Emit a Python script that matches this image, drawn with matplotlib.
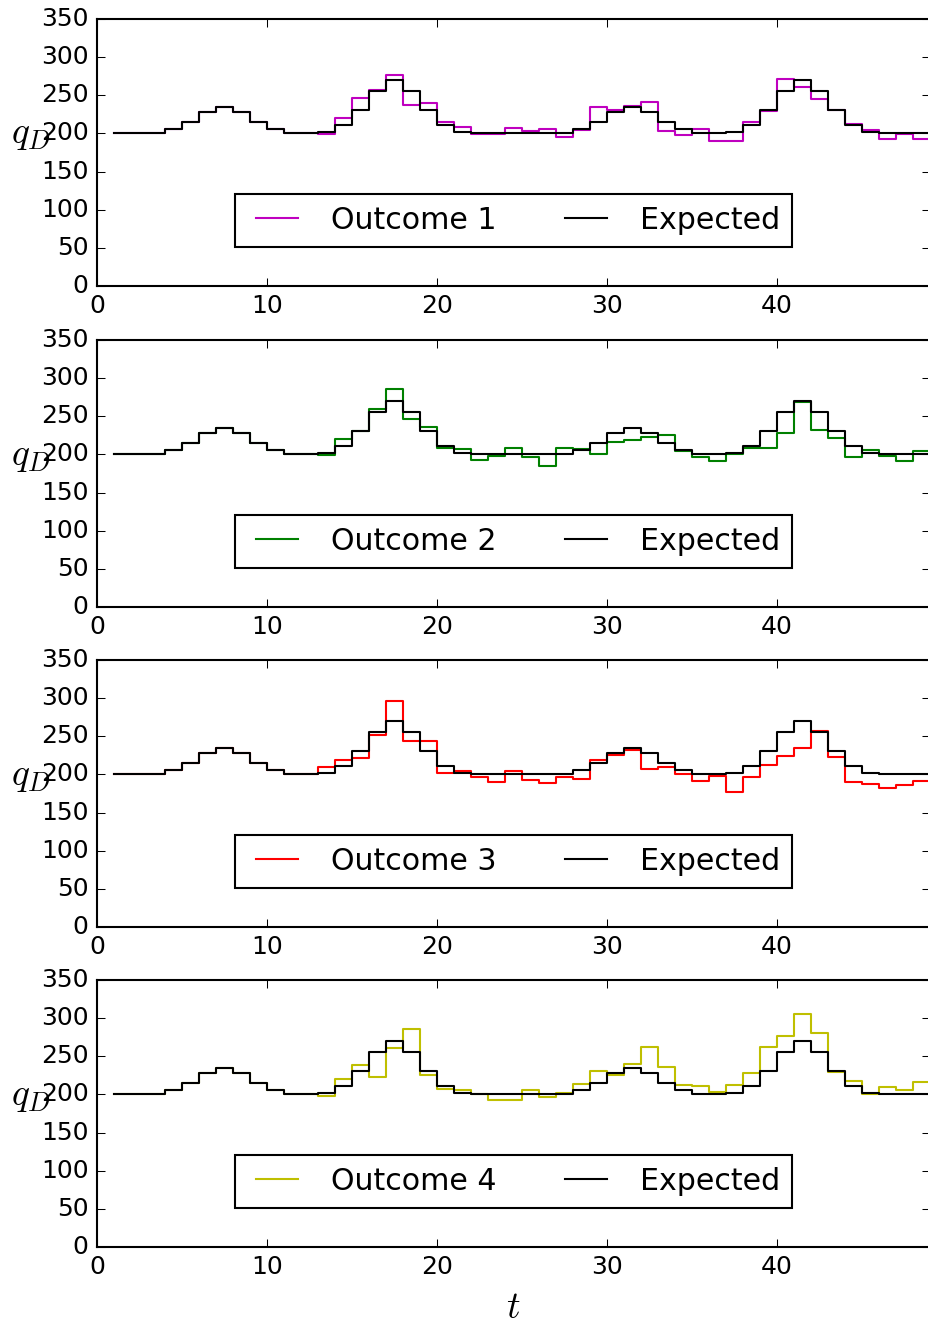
import numpy as np
import matplotlib
matplotlib.use('Agg')
import matplotlib.pyplot as plt

plt.style.use('classic')

# time steps (each value holds from t to t+1)
t = np.arange(1, 49)

expected = [200, 200, 201, 206, 215, 228, 235, 228, 215, 206, 201, 200,
            202, 211, 231, 256, 270, 256, 231, 211, 202, 200, 200, 200,
            200, 200, 201, 206, 215, 228, 235, 228, 215, 206, 201, 200,
            202, 211, 231, 256, 270, 256, 231, 211, 202, 200, 200, 200]

outcome1 = [200, 200, 201, 206, 215, 228, 235, 228, 215, 206, 201, 200,
            199, 220, 246, 257, 277, 237, 240, 215, 209, 199, 199, 207,
            203, 206, 195, 205, 234, 231, 236, 241, 203, 198, 206, 190,
            190, 215, 229, 272, 261, 245, 231, 212, 205, 193, 199, 193]

outcome2 = [200, 200, 201, 206, 215, 228, 235, 228, 215, 206, 201, 200,
            199, 220, 231, 259, 286, 247, 236, 208, 207, 193, 198, 208,
            196, 185, 208, 207, 200, 216, 219, 223, 225, 204, 196, 191,
            200, 208, 208, 228, 269, 232, 222, 197, 206, 198, 191, 205]

outcome3 = [200, 200, 201, 206, 215, 228, 235, 228, 215, 206, 201, 200,
            210, 219, 222, 252, 296, 244, 244, 202, 204, 197, 190, 205,
            193, 189, 196, 194, 219, 226, 232, 207, 210, 201, 192, 198,
            177, 197, 212, 224, 234, 257, 223, 190, 188, 182, 186, 191]

outcome4 = [200, 200, 201, 206, 215, 228, 235, 228, 215, 206, 201, 200,
            198, 220, 239, 223, 261, 286, 225, 207, 206, 201, 193, 193,
            206, 196, 202, 214, 231, 226, 240, 262, 236, 213, 211, 203,
            212, 228, 262, 276, 306, 281, 230, 217, 201, 210, 206, 216]

outcomes = [outcome1, outcome2, outcome3, outcome4]
colors = ['m', 'g', 'r', 'y']
labels = ['Outcome 1', 'Outcome 2', 'Outcome 3', 'Outcome 4']


def steps(vals):
    # repeat last value so the final step reaches t = 49
    x = np.append(t, t[-1] + 1)
    y = np.append(vals, vals[-1])
    return x, y


W, H = 928, 1322
fig = plt.figure(figsize=(W / 150.0, H / 150.0), dpi=150)

tops = [19, 340, 660, 980]
left, right, height = 97, 930, 267

axes = []
for i, top in enumerate(tops):
    ax = fig.add_axes([left / W, 1 - (top + height) / H, (right - left) / W, height / H])
    x, y = steps(outcomes[i])
    ax.step(x, y, where='post', color=colors[i], label=labels[i])
    x, y = steps(expected)
    ax.step(x, y, where='post', color='k', label='Expected')
    ax.set_xlim(0, 49)
    ax.set_ylim(0, 350)
    ax.set_xticks([0, 10, 20, 30, 40])
    ax.set_yticks(range(0, 351, 50))
    ax.set_ylabel(r'$q_D$', rotation=0, fontsize=18)
    ax.legend(loc='center', bbox_to_anchor=(0.5, 0.247), ncol=2)
    axes.append(ax)

axes[-1].set_xlabel(r'$t$', fontsize=18)

fig.savefig('out.png', dpi=150, facecolor='white')
